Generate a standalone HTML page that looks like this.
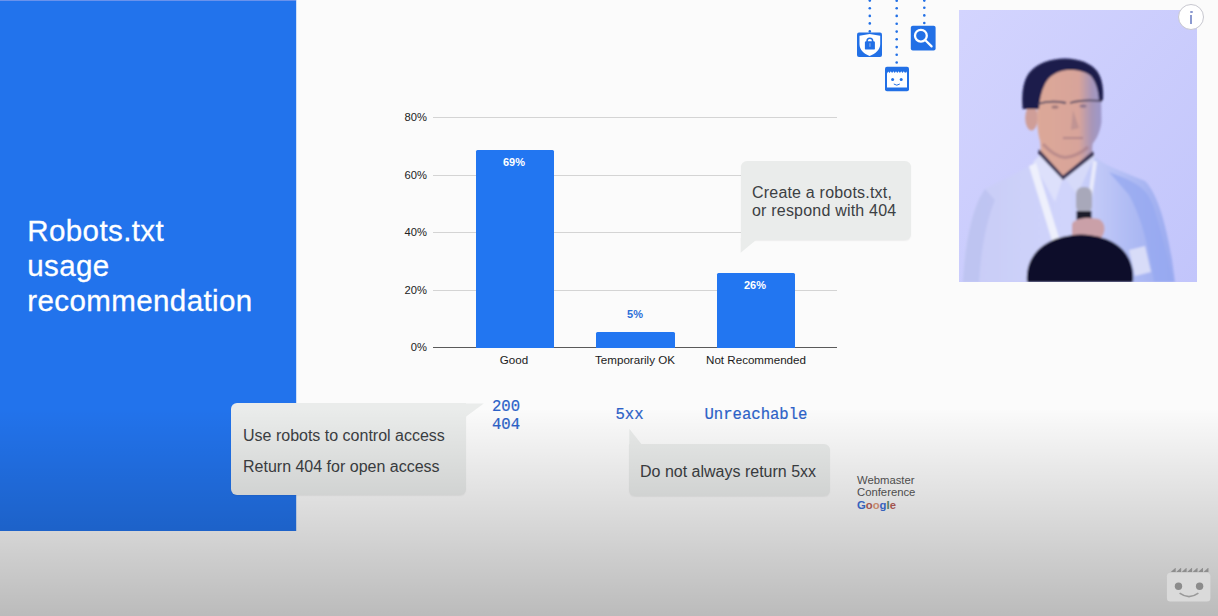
<!DOCTYPE html>
<html><head><meta charset="utf-8">
<style>
*{margin:0;padding:0;box-sizing:border-box}
html,body{width:1218px;height:616px;overflow:hidden;background:#fbfbfb;font-family:"Liberation Sans",sans-serif}
.a{position:absolute}
#panel{left:0;top:0;width:296px;height:531px;background:#2273ec;border-top:1px solid #6a92ec;box-shadow:0.5px 0 0 rgba(34,115,236,0.4)}
#title{left:27.3px;top:212.7px;color:#fff;font-size:29.5px;line-height:35px;letter-spacing:0.4px;white-space:nowrap;-webkit-text-stroke:0.3px #fff}
.grid{position:absolute;left:433px;width:404px;height:1px;background:#d4d4d4}
.yl{position:absolute;width:40px;left:387px;text-align:right;font-size:11.2px;color:#222;line-height:12px}
.bar{position:absolute;background:#2276f1;border-radius:1.5px 1.5px 0 0}
.bl{position:absolute;width:80px;text-align:center;font-size:11px;font-weight:bold;line-height:12px}
.xl{position:absolute;width:120px;text-align:center;font-size:11.6px;color:#1a1a1a;line-height:13px}
.bub{position:absolute;background:#eaeceb;border-radius:6px;color:#3c4043;font-size:16px;box-shadow:0 1px 1.5px rgba(0,0,0,0.06)}
.mono{position:absolute;font-family:"Liberation Mono",monospace;font-size:15.6px;color:#2c62c8;-webkit-text-stroke:0.2px #2c62c8;line-height:18.2px;white-space:pre}
#overlay{left:0;top:0;width:1218px;height:616px;background:linear-gradient(to bottom,rgba(0,0,0,0) 0px,rgba(0,0,0,0) 408px,rgba(0,0,0,0.255) 616px)}
</style></head><body>
<div class="a" id="panel"></div>
<div class="a" id="title">Robots.txt<br>usage<br>recommendation</div>

<!-- chart -->
<div class="grid" style="top:117px"></div>
<div class="grid" style="top:175px"></div>
<div class="grid" style="top:232px"></div>
<div class="grid" style="top:290px"></div>
<div class="grid" style="top:347px;height:1.2px;background:#5a5a5a"></div>
<div class="yl" style="top:111px">80%</div>
<div class="yl" style="top:169px">60%</div>
<div class="yl" style="top:226px">40%</div>
<div class="yl" style="top:284px">20%</div>
<div class="yl" style="top:341px">0%</div>

<div class="bar" style="left:475.5px;width:78px;top:150px;height:198px"></div>
<div class="bar" style="left:596px;width:79px;top:332px;height:16px"></div>
<div class="bar" style="left:717px;width:78px;top:273px;height:75px"></div>
<div class="bl" style="left:474px;top:156px;color:#fff">69%</div>
<div class="bl" style="left:595px;top:308px;color:#2b6fd8">5%</div>
<div class="bl" style="left:715px;top:279px;color:#fff">26%</div>

<div class="xl" style="left:454px;top:353px">Good</div>
<div class="xl" style="left:575px;top:353px">Temporarily OK</div>
<div class="xl" style="left:696px;top:353px">Not Recommended</div>

<!-- bubble top right -->
<div class="bub" style="left:741px;top:161px;width:170px;height:79px;border-radius:6px 6px 6px 0;line-height:18.5px;padding:22.5px 0 0 11px;letter-spacing:0.2px">Create a robots.txt,<br>or respond with 404</div>
<svg class="a" style="left:740px;top:238px" width="20" height="16"><path d="M0.7 0 L18.5 0 L0.7 14.7 Z" fill="#eaeceb"/></svg>

<!-- bubble left -->
<div class="bub" style="left:231px;top:403px;width:235px;height:92px;border-radius:6px 0 6px 6px"></div>
<svg class="a" style="left:465px;top:403px" width="20" height="15"><path d="M0.5 0.6 L18.8 0.6 L0.5 13.9 Z" fill="#eaeceb"/></svg>
<div class="a" style="left:243px;top:419.5px;font-size:16px;color:#3c4043;line-height:31.5px;white-space:nowrap">Use robots to control access<br>Return 404 for open access</div>

<!-- mono -->
<div class="mono" style="left:492px;top:397.5px">200
404</div>
<div class="mono" style="left:615.5px;top:406px">5xx</div>
<div class="mono" style="left:704.5px;top:406px">Unreachable</div>

<!-- bubble bottom -->
<div class="bub" style="left:629px;top:444px;width:201px;height:52px;border-radius:0 6px 6px 6px"></div>
<svg class="a" style="left:629px;top:428px" width="14" height="17"><path d="M0.3 0.8 L12.8 16.5 L12.8 17 L0.3 17 Z" fill="#eaeceb"/></svg>
<div class="a" style="left:640px;top:463px;font-size:16px;color:#3c4043;line-height:18px;white-space:nowrap">Do not always return 5xx</div>

<!-- logo -->
<div class="a" style="left:857px;top:474px;font-size:11.3px;color:#555;line-height:12.4px">Webmaster<br>Conference<br><b><span style="color:#3d6fd6">G</span><span style="color:#b8605a">o</span><span style="color:#e09a78">o</span><span style="color:#3d6fd6">g</span><span style="color:#5a8a70">l</span><span style="color:#b8605a">e</span></b></div>

<!-- icons -->
<svg class="a" style="left:845px;top:0" width="100" height="95">
 <g fill="#2270e6">
  <circle cx="24.8" cy="0.6" r="1.3"/><circle cx="24.8" cy="8.3" r="1.3"/><circle cx="24.8" cy="15.9" r="1.3"/><circle cx="24.8" cy="23.4" r="1.3"/><circle cx="24.8" cy="31.4" r="1.3"/>
  <circle cx="51.7" cy="0.8" r="1.3"/><circle cx="51.7" cy="8.2" r="1.3"/><circle cx="51.7" cy="15.9" r="1.3"/><circle cx="51.7" cy="23.8" r="1.3"/><circle cx="51.7" cy="31.6" r="1.3"/><circle cx="51.7" cy="39.3" r="1.3"/><circle cx="51.7" cy="47.1" r="1.3"/><circle cx="51.7" cy="54.8" r="1.3"/><circle cx="51.7" cy="62.5" r="1.3"/>
  <circle cx="79.3" cy="0.6" r="1.3"/><circle cx="79.3" cy="7.8" r="1.3"/><circle cx="79.3" cy="15.4" r="1.3"/><circle cx="79.3" cy="23" r="1.3"/>
  <rect x="12" y="32.5" width="25" height="24.5" rx="2"/>
  <rect x="40" y="66.7" width="24" height="24.5" rx="2"/>
  <rect x="65.8" y="25.8" width="24.8" height="24.8" rx="2"/>
 </g>
 <!-- shield -->
 <path d="M24.6 34 L35.2 35.8 L35.2 44 C35.2 50 30.5 53.5 24.6 56 C18.7 53.5 14.5 50 14.5 44 L14.5 35.8 Z" fill="#fff"/>
 <rect x="19.9" y="41.2" width="10" height="8.4" rx="1.2" fill="#2270e6"/><rect x="24.4" y="43.2" width="1.1" height="3.6" fill="#8fb0ee"/>
 <path d="M22.05 42 L22.05 40.95 A2.8 2.8 0 0 1 27.65 40.95 L27.65 42" fill="none" stroke="#2270e6" stroke-width="1.5"/>
 <!-- robot face -->
 <path d="M42 73.5 L43.2 71.5 L44.5 73 L45.8 71.3 L47.1 73 L48.4 71.3 L49.7 73 L51 71.3 L52.3 73 L53.6 71.3 L54.9 73 L56.2 71.3 L57.5 73 L58.8 71.3 L60.1 73 L61.5 71.5 L62 73.5 L62 87.5 L42 87.5 Z" fill="#fff"/>
 <circle cx="47.6" cy="79.4" r="1.5" fill="#2270e6"/><circle cx="56.2" cy="79.4" r="1.5" fill="#2270e6"/>
 <path d="M48.8 84 Q51.8 86.4 54.8 84" fill="none" stroke="#2270e6" stroke-width="1"/>
 <!-- magnifier -->
 <circle cx="75.9" cy="35.7" r="5.9" fill="none" stroke="#fff" stroke-width="2.3"/>
 <path d="M80.4 40.2 L86.6 46.4" stroke="#fff" stroke-width="2.2" stroke-linecap="round"/>
</svg>

<!-- photo -->
<svg class="a" style="left:959px;top:10px" width="238" height="272" viewBox="0 0 238 272">
 <defs>
  <linearGradient id="bg" x1="0" y1="0" x2="1" y2="1"><stop offset="0" stop-color="#d3d4fe"/><stop offset="1" stop-color="#c2c5fb"/></linearGradient>
  <linearGradient id="sk" gradientUnits="userSpaceOnUse" x1="78" y1="0" x2="143" y2="0"><stop offset="0" stop-color="#dca898"/><stop offset="0.64" stop-color="#d8a49a"/><stop offset="0.84" stop-color="#a896b8"/><stop offset="1" stop-color="#9c98cc"/></linearGradient>
  <linearGradient id="sh" x1="0" y1="0" x2="1" y2="0"><stop offset="0" stop-color="#c8ccf6"/><stop offset="0.5" stop-color="#d0d4fb"/><stop offset="0.78" stop-color="#b0bcf4"/><stop offset="1" stop-color="#9aaaf0"/></linearGradient>
  <filter id="bl" x="-10%" y="-10%" width="120%" height="120%"><feGaussianBlur stdDeviation="0.9"/></filter>
 </defs>
 <rect width="238" height="272" fill="url(#bg)"/>
 <g filter="url(#bl)">
  <!-- shirt -->
  <path d="M4 272 C5 235 12 198 26 179 C42 170 60 163 73 154 L90 150 L128 146 L137 148 C150 158 168 163 186 171 C199 184 207 215 213 250 L216 272 Z" fill="url(#sh)"/>
  <path d="M150 162 C170 170 186 174 194 195 C202 220 210 250 214 272 L195 272 C190 240 184 210 170 185 Z" fill="#96a8f0" opacity="0.75"/>
  <path d="M26 179 C14 196 7 230 4 272 L20 272 C22 240 27 212 36 190 Z" fill="#bcc2f0" opacity="0.8"/>
  <!-- collar -->
  <path d="M74 152 L84 142 L104 168 L96 192 Z" fill="#dde0fb"/>
  <path d="M136 146 L128 142 L106 168 L118 185 Z" fill="#d6daf9"/>
  <!-- neck -->
  <path d="M81 126 L134 124 L133 143 L104 167 L82 144 Z" fill="url(#sk)"/>
  <path d="M80 139 L104 165.5 L134 141 L135 145.5 L104 170 L79 143.5 Z" fill="#3a3554"/>
  <!-- ear -->
  <ellipse cx="72.5" cy="108" rx="6.3" ry="12.5" fill="#cf9e98"/>
  <!-- face -->
  <path d="M79 84 C80 66 94 56 110 56 C126 56 140 64 142 80 L142.5 112 C141 124 136 132 129 139 C120 146 112 148 104 148 C96 146 88 140 82 133 C77 122 78 100 79 84 Z" fill="url(#sk)"/>
  <!-- hair -->
  <path d="M63.7 99 C62.5 85 63.5 72 70 63 C78 53 92 48.4 106 48.4 C120 48.5 132 53 138 61 C143 68 144.8 78 144 90 L140 90.5 C139.5 81 137 72 132 66 C126 61 118 59.5 108 60 C98 61 90 66 86 74 C82 82 80.5 90 80 99 Z" fill="#1b1c4c"/>
  <!-- glasses -->
  <path d="M79 94 C88 91 98 91 107 93 M111 93 C120 90 132 90 143 91" fill="none" stroke="#4c4560" stroke-width="1.8"/>
  <path d="M84 134 C92 143 100 147 106 147.5 C114 147 122 143 129 137" fill="none" stroke="#a07480" stroke-width="3" opacity="0.55"/>
  <ellipse cx="96" cy="97" rx="3.5" ry="1.6" fill="#6a5060" opacity="0.6"/>
  <ellipse cx="124" cy="96" rx="3.5" ry="1.6" fill="#5a5078" opacity="0.6"/>
  <!-- nose/mouth shade -->
  <path d="M114 100 L120 118 L112 120 Z" fill="#b08890" opacity="0.6"/>
  <path d="M104 128 L124 128" stroke="#9a7080" stroke-width="2" opacity="0.6"/>
  <!-- lanyard -->
  <path d="M70 156 L77 153 L101 231 L94 234 Z" fill="#eef0fc"/>
  <path d="M134 150 L138 152 L132 195 L128 196 Z" fill="#e8eafb"/>
  <!-- mic -->
  <rect x="117" y="177" width="16" height="26" rx="7" fill="#a8a8ba"/>
  <rect x="117.5" y="201" width="15" height="8.6" fill="#1a1a2c"/>
  <!-- hand -->
  <path d="M113 214 C116 208 128 207 140 209 C147 213 147 222 142 228 L113 228 Z" fill="#caa0a8"/>
  <!-- cuff right -->
  <path d="M170 240 L186 236 L192 262 L176 266 Z" fill="#d8dcf8"/>
  <!-- head at bottom -->
  <path d="M68 272 C66 248 82 226 122 224.5 C162 226 176 248 174 272 Z" fill="#0b0a2c"/>
 </g>
</svg>
<!-- info -->
<div class="a" style="left:1178px;top:4px;width:26.4px;height:26.4px;border-radius:50%;background:#fff;border:1px solid #c8c8d0"></div>
<div class="a" style="left:1190px;top:10.5px;width:2.6px;height:2.6px;border-radius:50%;background:#8c9ad0"></div>
<div class="a" style="left:1190.2px;top:14.6px;width:2.3px;height:9.8px;background:#8c9ad0"></div>

<div class="a" id="overlay"></div>
<!-- googlebot watermark -->
<svg class="a" style="left:1160px;top:560px" width="58" height="56">
 <path d="M10.80 11.9 L15.20 7.9 L15.70 7.9 L15.70 11.9 Z M16.26 11.9 L20.66 7.9 L21.16 7.9 L21.16 11.9 Z M21.72 11.9 L26.12 7.9 L26.62 7.9 L26.62 11.9 Z M27.18 11.9 L31.58 7.9 L32.08 7.9 L32.08 11.9 Z M32.64 11.9 L37.04 7.9 L37.54 7.9 L37.54 11.9 Z M38.10 11.9 L42.50 7.9 L43.00 7.9 L43.00 11.9 Z M43.56 11.9 L47.96 7.9 L48.46 7.9 L48.46 11.9 Z " fill="#8e8e8e"/>
 <rect x="6.9" y="12.8" width="43.5" height="28.7" rx="3.5" fill="#dadada"/>
 <circle cx="18.5" cy="26.2" r="3.7" fill="#8c8c8c"/><circle cx="39.6" cy="26.2" r="3.7" fill="#8c8c8c"/>
 <path d="M19.6 33.2 Q29 40 38.4 33.2" fill="none" stroke="#9a9a9a" stroke-width="1.6"/>
</svg>
</body></html>
